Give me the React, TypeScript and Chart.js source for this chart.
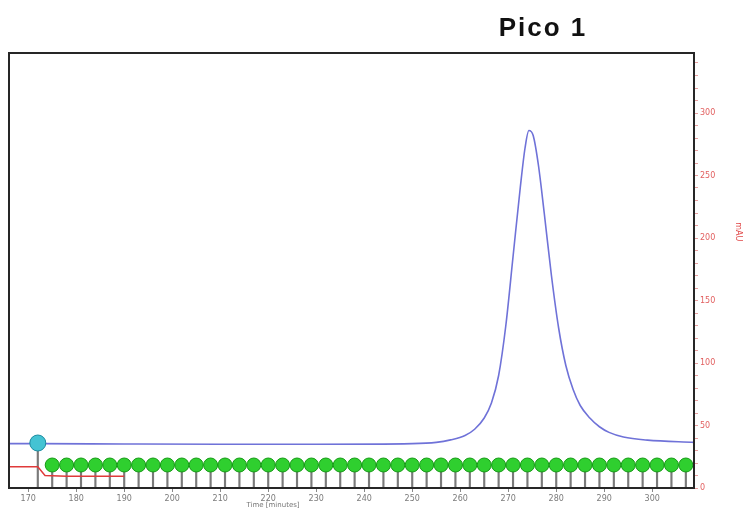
import React, { useEffect, useRef } from "react";
import { Chart, registerables } from "chart.js";

Chart.register(...registerables);

// ---- data ----
const xTickValues = [170, 180, 190, 200, 210, 220, 230, 240, 250, 260, 270, 280, 290, 300];
const yTickLabels = [0, 50, 100, 150, 200, 250, 300];

const blueTimes = [166, 172, 190, 210, 230, 250, 255, 258, 261, 263, 265, 266.5, 268, 269.5, 271, 272.5, 273.5, 274.3, 275.2, 276.3, 277.5, 279, 280.5, 282, 283.5, 285, 287, 289, 291, 294, 299, 308.7];
const blueValues = [35.5, 35.5, 35.2, 35, 35, 35.5, 36.5, 38.5, 42, 47, 56, 68, 90, 130, 185, 240, 272, 286, 282, 258, 220, 170, 128, 98, 79, 66, 56, 49, 44.5, 40.8, 38.3, 36.5];

const redTimes = [166, 172, 173.5, 178, 190];
const redValues = [17, 17, 10, 9.5, 9.5];

const fractionTimes = [175, 178, 181, 184, 187, 190, 193, 196, 199, 202, 205, 208, 211, 214, 217, 220, 223, 226, 229, 232, 235, 238, 241, 244, 247, 250, 253, 256, 259, 262, 265, 268, 271, 274, 277, 280, 283, 286, 289, 292, 295, 298, 301, 304, 307];
const fractionLevel = 18.4;

const injectTime = 172;
const injectValue = 36;

const titleText = "Pico 1";
const xTitleText = "Time [minutes]";
const yTitleText = "mAU";

export default function App() {
  const canvasRef = useRef<HTMLCanvasElement | null>(null);

  useEffect(() => {
    const canvas = canvasRef.current;
    if (!canvas) return;

    const framePlugin = {
      id: "frameAndTitles",
      afterDraw(chart: any) {
        const { ctx, chartArea, scales } = chart;
        ctx.save();
        ctx.strokeStyle = "#262626";
        ctx.lineWidth = 2;
        ctx.strokeRect(chartArea.left, chartArea.top, chartArea.right - chartArea.left, chartArea.bottom - chartArea.top);
        // x title
        ctx.fillStyle = "#777";
        ctx.font = "7px 'DejaVu Sans'";
        ctx.textAlign = "center";
        ctx.textBaseline = "middle";
        ctx.fillText(xTitleText, scales.x.getPixelForValue(221), chartArea.bottom + 17);
        // right y title
        ctx.translate(chart.width - 5, scales.y.getPixelForValue(205));
        ctx.rotate(Math.PI / 2);
        ctx.fillStyle = "#e04848";
        ctx.font = "8px 'DejaVu Sans'";
        ctx.fillText(yTitleText, 0, 0);
        ctx.restore();
      },
    };

    const chart = new Chart(canvas, {
      type: "scatter",
      data: {
        datasets: [
          {
            type: "scatter",
            data: fractionTimes.map((t) => ({ x: t, y: fractionLevel })),
            pointRadius: 7,
            pointBackgroundColor: "#2fcf2f",
            pointBorderColor: "#159a15",
            pointBorderWidth: 1,
            clip: 12,
            order: 1,
          } as any,
          {
            type: "scatter",
            data: [{ x: injectTime, y: injectValue }],
            pointRadius: 8,
            pointBackgroundColor: "#44c3d3",
            pointBorderColor: "#1c8ba0",
            pointBorderWidth: 1,
            clip: 12,
            order: 1,
          } as any,
          {
            type: "line",
            data: blueTimes.map((t, i) => ({ x: t, y: blueValues[i] })),
            borderColor: "#6f72d8",
            borderWidth: 1.6,
            pointRadius: 0,
            showLine: true,
            fill: false,
            cubicInterpolationMode: "monotone",
            order: 3,
          } as any,
          {
            type: "line",
            data: redTimes.map((t, i) => ({ x: t, y: redValues[i] })),
            borderColor: "#e03a3a",
            borderWidth: 1.5,
            pointRadius: 0,
            showLine: true,
            fill: false,
            order: 4,
          } as any,
          {
            type: "bar",
            data: fractionTimes.map((t) => ({ x: t, y: fractionLevel })),
            backgroundColor: "#7a7a7a",
            barThickness: 1.5,
            grouped: false,
            order: 5,
          } as any,
          {
            type: "bar",
            data: [{ x: injectTime, y: injectValue }],
            backgroundColor: "#7a7a7a",
            barThickness: 1.5,
            grouped: false,
            order: 5,
          } as any,
        ],
      },
      options: {
        responsive: false,
        animation: false,
        layout: { padding: { left: 9, top: 53, right: 0, bottom: 0 } },
        plugins: {
          legend: { display: false },
          tooltip: { enabled: false },
          title: { display: false },
        },
        scales: {
          x: {
            type: "linear",
            position: "bottom",
            min: 166,
            max: 308.7,
            offset: false,
            afterBuildTicks: (s: any) => {
              s.ticks = xTickValues.map((v) => ({ value: v }));
            },
            afterFit: (s: any) => {
              s.height = 39;
            },
            border: { display: false },
            grid: { drawOnChartArea: false, offset: false, tickLength: 4, color: "#8a8a8a" },
            ticks: {
              color: "#7a7a7a",
              font: { size: 8, family: "'DejaVu Sans'" },
              padding: 2,
              maxRotation: 0,
              autoSkip: false,
            },
          },
          y: {
            type: "linear",
            position: "right",
            min: 0,
            max: 348,
            afterBuildTicks: (s: any) => {
              const t: any[] = [];
              for (let v = 0; v <= 340; v += 10) t.push({ value: v });
              s.ticks = t;
            },
            afterFit: (s: any) => {
              s.width = 49;
            },
            border: { display: false },
            grid: { drawOnChartArea: false, tickLength: 4, color: "#e8a0a0" },
            ticks: {
              color: "#e26060",
              font: { size: 8, family: "'DejaVu Sans'" },
              padding: 2,
              autoSkip: false,
              callback: (v: any) => (yTickLabels.includes(Number(v)) ? String(v) : ""),
            },
          },
        },
      } as any,
      plugins: [framePlugin],
    });

    return () => chart.destroy();
  }, []);

  return (
    <div style={{ position: "fixed", left: 0, top: 0, width: 743, height: 527, background: "#fff" }}>
      <canvas ref={canvasRef} width={743} height={527} style={{ width: 743, height: 527, display: "block" }} />
      <div
        style={{
          position: "absolute",
          left: 443,
          top: 12,
          width: 200,
          textAlign: "center",
          fontFamily: "'Liberation Sans', Arial, sans-serif",
          fontWeight: "bold",
          fontSize: 26,
          letterSpacing: 2,
          color: "#111",
        }}
      >
        {titleText}
      </div>
    </div>
  );
}
